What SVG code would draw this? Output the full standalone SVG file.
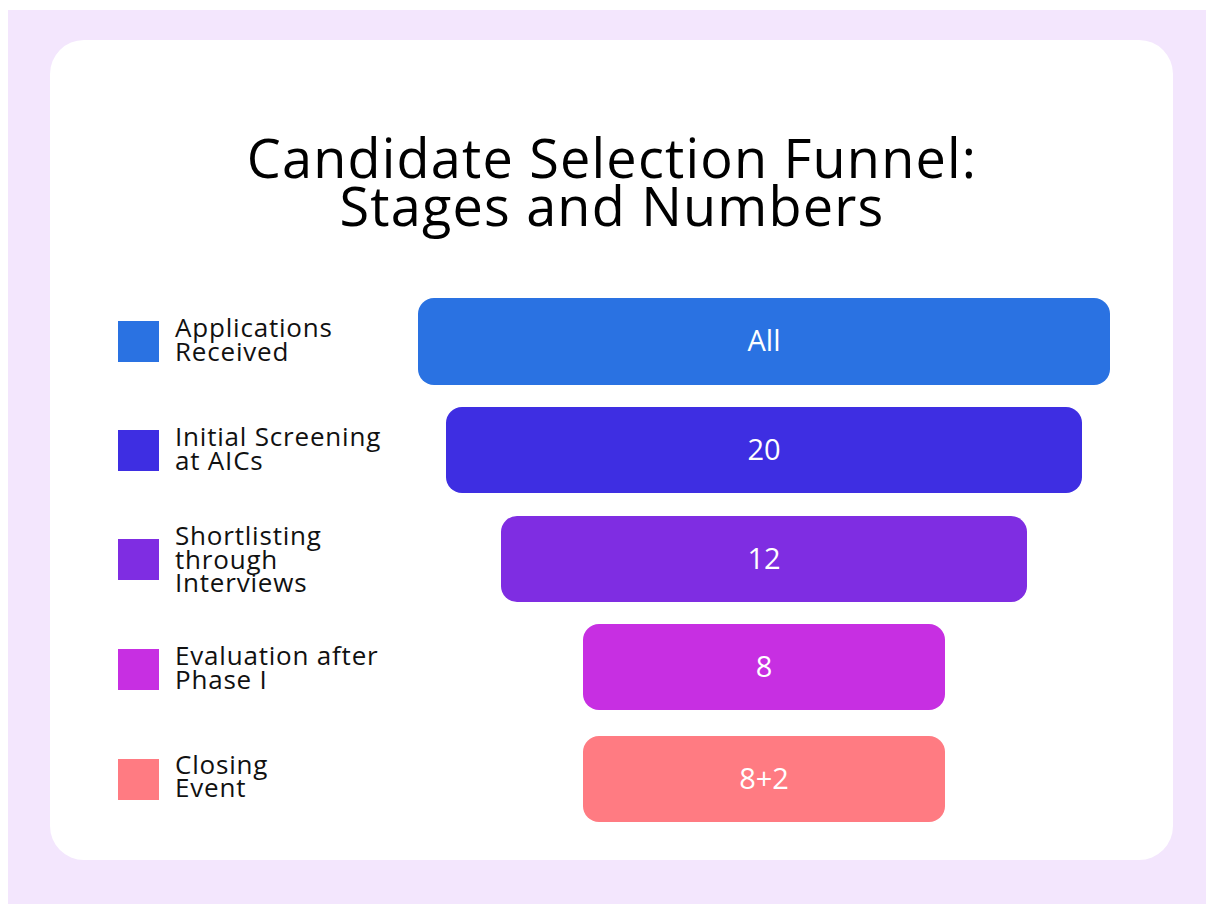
<svg xmlns="http://www.w3.org/2000/svg" width="1206" height="904" viewBox="0 0 1206 904">
<style>
.title{font-family:"Open Sans","Noto Sans",sans-serif;font-size:54px;letter-spacing:1.2px;fill:#000;text-anchor:middle}
.leg{font-family:"Open Sans","Noto Sans",sans-serif;font-size:26px;letter-spacing:0.8px;fill:#111}
.val{font-family:"Open Sans","Noto Sans",sans-serif;font-size:29px;fill:#fff;text-anchor:middle}
</style>
<rect x="8" y="10" width="1198" height="894" fill="#f3e6fd"/>
<rect x="50" y="40" width="1123" height="820" rx="34" fill="#ffffff"/>
<g id="title">
<text class="title" x="612" y="178">Candidate Selection Funnel:</text>
<text class="title" x="612" y="226">Stages and Numbers</text>
</g>
<g id="stage1">
<rect x="118" y="321" width="41" height="41" fill="#2a72e2"/>
<text class="leg" x="175" y="337">Applications</text>
<text class="leg" x="175" y="361">Received</text>
<rect x="418" y="298" width="692" height="87" rx="16" fill="#2a72e2"/>
<text class="val" x="764" y="351">All</text>
</g>
<g id="stage2">
<rect x="118" y="430" width="41" height="41" fill="#3e2ee2"/>
<text class="leg" x="175" y="446">Initial Screening</text>
<text class="leg" x="175" y="470">at AICs</text>
<rect x="446" y="407" width="636" height="86" rx="16" fill="#3e2ee2"/>
<text class="val" x="764" y="460">20</text>
</g>
<g id="stage3">
<rect x="118" y="539" width="41" height="41" fill="#7f2de2"/>
<text class="leg" x="175" y="545">Shortlisting</text>
<text class="leg" x="175" y="569">through</text>
<text class="leg" x="175" y="592">Interviews</text>
<rect x="501" y="516" width="526" height="86" rx="16" fill="#7f2de2"/>
<text class="val" x="764" y="569">12</text>
</g>
<g id="stage4">
<rect x="118" y="649" width="41" height="41" fill="#c72fe2"/>
<text class="leg" x="175" y="665">Evaluation after</text>
<text class="leg" x="175" y="689">Phase I</text>
<rect x="583" y="624" width="362" height="86" rx="16" fill="#c72fe2"/>
<text class="val" x="764" y="677">8</text>
</g>
<g id="stage5">
<rect x="118" y="759" width="41" height="41" fill="#ff7b82"/>
<text class="leg" x="175" y="774">Closing</text>
<text class="leg" x="175" y="797">Event</text>
<rect x="583" y="736" width="362" height="86" rx="16" fill="#ff7b82"/>
<text class="val" x="764" y="789">8+2</text>
</g>
<g id="connectors"></g>
</svg>
